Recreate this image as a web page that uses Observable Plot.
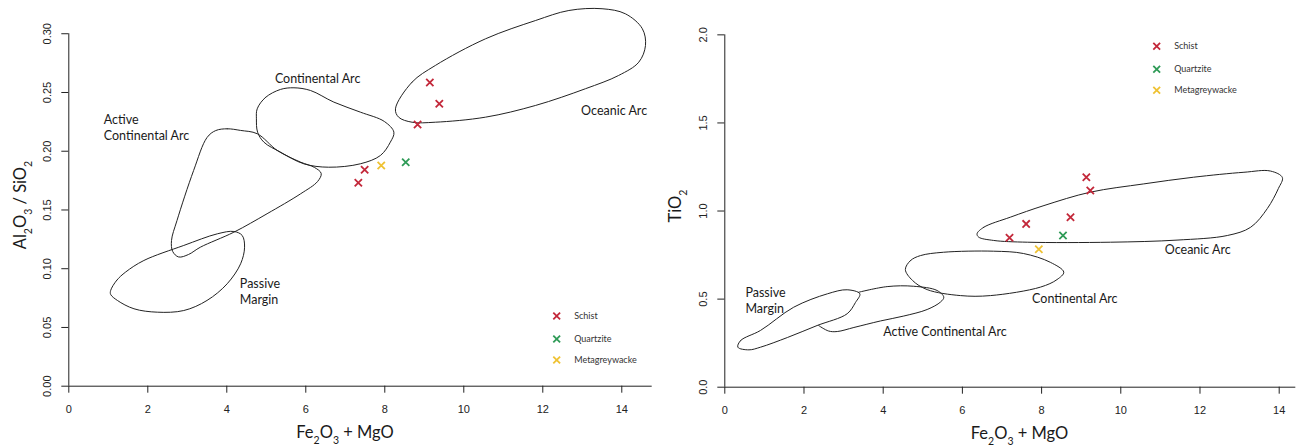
<!DOCTYPE html>
<html><head><meta charset="utf-8">
<script src="https://cdn.jsdelivr.net/npm/d3@7"></script>
<script src="https://cdn.jsdelivr.net/npm/@observablehq/plot@0.6"></script>
<style>
body{margin:0;background:#fff;}
#wrap{position:relative;width:1296px;height:447px;overflow:hidden;background:#fff;}
#left{position:absolute;left:0;top:0;}
#right{position:absolute;left:660px;top:0;}
</style></head><body><div id="wrap"><div id="left"></div><div id="right"></div></div>
<script>
// ---------- categories ----------
const rockTypes = ["Schist", "Quartzite", "Metagreywacke"];
const rockColors = ["#c3283a", "#2f9b57", "#efc233"];

// ---------- tick values ----------
const xTicks = [0, 2, 4, 6, 8, 10, 12, 14];
const leftYTicks = [0, 0.05, 0.10, 0.15, 0.20, 0.25, 0.30];
const rightYTicks = [0, 0.5, 1.0, 1.5, 2.0];

// ---------- samples: left panel (Al2O3/SiO2 vs Fe2O3+MgO) ----------
const leftType = ["Schist", "Schist", "Schist", "Quartzite", "Metagreywacke", "Schist", "Schist"];
const leftFeMg = [9.14, 9.38, 8.83, 8.53, 7.91, 7.49, 7.33];
const leftAlSi = [0.2585, 0.2404, 0.2228, 0.1907, 0.1879, 0.1842, 0.1731];

// ---------- samples: right panel (TiO2 vs Fe2O3+MgO) ----------
const rightType = ["Schist", "Schist", "Schist", "Schist", "Schist", "Quartzite", "Metagreywacke"];
const rightFeMg = [9.13, 9.23, 8.73, 7.61, 7.19, 8.54, 7.93];
const rightTiO2 = [1.192, 1.116, 0.965, 0.927, 0.848, 0.861, 0.783];

// ---------- tectonic fields, left panel ----------
const leftOceanicArc = [[8.27,0.2361],[8.69,0.2588],[9.28,0.2730],[10.55,0.2957],[11.82,0.3113],[12.66,0.3198],[13.50,0.3213],[14.09,0.3170],[14.52,0.3043],[14.60,0.2900],[14.43,0.2758],[13.92,0.2645],[13.08,0.2532],[11.82,0.2390],[10.55,0.2290],[9.28,0.2247],[8.69,0.2247],[8.35,0.2290]];
const leftContinentalArc = [[4.77,0.2361],[4.98,0.2458],[5.36,0.2526],[5.70,0.2540],[6.12,0.2517],[6.71,0.2418],[7.38,0.2333],[7.99,0.2253],[8.23,0.2162],[8.14,0.2077],[7.89,0.1964],[7.38,0.1893],[6.58,0.1864],[5.95,0.1893],[5.36,0.1992],[4.94,0.2077],[4.78,0.2162],[4.75,0.2276]];
const leftActiveContinentalArc = [[3.72,0.2176],[4.01,0.2191],[4.35,0.2177],[4.77,0.2149],[5.28,0.2006],[5.87,0.1907],[6.22,0.1862],[6.39,0.1811],[6.30,0.1743],[5.87,0.1638],[5.02,0.1468],[4.18,0.1311],[3.33,0.1183],[3.03,0.1121],[2.78,0.1100],[2.63,0.1147],[2.60,0.1240],[2.74,0.1411],[3.16,0.1836],[3.50,0.2117]];
const leftPassiveMargin = [[1.06,0.0815],[1.21,0.0900],[1.44,0.0972],[1.90,0.1070],[2.91,0.1198],[3.76,0.1297],[4.18,0.1317],[4.39,0.1283],[4.45,0.1183],[4.35,0.1042],[4.01,0.0872],[3.50,0.0730],[2.91,0.0644],[2.24,0.0630],[1.65,0.0659],[1.23,0.0730],[1.06,0.0781]];

// ---------- tectonic fields, right panel ----------
const rightOceanicArc = [[6.37,0.871],[6.54,0.908],[7.21,0.965],[8.06,1.031],[9.23,1.107],[10.58,1.154],[11.84,1.192],[13.11,1.220],[13.78,1.227],[14.08,1.190],[13.98,1.128],[13.70,1.014],[13.28,0.908],[12.69,0.861],[11.42,0.835],[9.74,0.823],[7.64,0.823],[6.79,0.833],[6.41,0.852]];
const rightContinentalArc = [[4.56,0.668],[4.69,0.719],[4.94,0.747],[5.52,0.766],[6.79,0.772],[7.54,0.759],[8.22,0.709],[8.56,0.653],[8.39,0.611],[7.97,0.568],[6.71,0.520],[5.95,0.520],[5.11,0.554],[4.74,0.606]];
const rightActiveContinentalArc = [[2.37,0.350],[2.62,0.319],[2.84,0.316],[3.26,0.339],[3.93,0.376],[4.52,0.404],[5.11,0.441],[5.45,0.484],[5.53,0.511],[5.36,0.549],[4.77,0.573],[4.10,0.571],[3.38,0.539]];
const rightPassiveMargin = [[0.33,0.227],[0.40,0.265],[0.90,0.322],[1.74,0.454],[2.59,0.530],[3.09,0.553],[3.41,0.530],[3.30,0.481],[3.09,0.417],[2.33,0.350],[1.58,0.282],[0.90,0.227],[0.61,0.212]];

// ---------- field labels ----------
const leftFieldLabels = [
  {x: 6.30, y: 0.2619, text: "Continental Arc", anchor: "middle"},
  {x: 0.886, y: 0.2270, text: "Active", anchor: "start"},
  {x: 0.886, y: 0.2128, text: "Continental Arc", anchor: "start"},
  {x: 4.33, y: 0.0866, text: "Passive", anchor: "start"},
  {x: 4.33, y: 0.0736, text: "Margin", anchor: "start"},
  {x: 12.97, y: 0.2341, text: "Oceanic Arc", anchor: "start"}
];
const rightFieldLabels = [
  {x: 0.52, y: 0.536, text: "Passive", anchor: "start"},
  {x: 0.52, y: 0.445, text: "Margin", anchor: "start"},
  {x: 4.00, y: 0.316, text: "Active Continental Arc", anchor: "start"},
  {x: 7.76, y: 0.498, text: "Continental Arc", anchor: "start"},
  {x: 11.11, y: 0.776, text: "Oceanic Arc", anchor: "start"}
];

// ---------- build tables ----------
function fieldRows(fields) {
  return fields.flatMap(([name, pts]) => pts.map(([x, y]) => ({name, x, y})));
}
function sampleRows(types, xs, ys) {
  return types.map((t, i) => ({type: t, x: xs[i], y: ys[i]}));
}

const labelFont = "Lato, 'Open Sans', sans-serif";
const tickFont = "'Liberation Sans', Arial, sans-serif";

function panel(cfg) {
  const labelMark = anchor => Plot.text(cfg.labels.filter(d => d.anchor === anchor),
    {x: "x", y: "y", text: "text", textAnchor: anchor, fontSize: 12.5, fontFamily: labelFont, fill: "#1a1a1a"});
  const chart = Plot.plot({
    width: cfg.width, height: 447,
    marginLeft: cfg.marginLeft, marginRight: cfg.marginRight,
    marginTop: 0, marginBottom: cfg.marginBottom,
    style: {fontFamily: tickFont, fontSize: "11px", color: "#222", background: "white"},
    x: {domain: [0, cfg.xMax]},
    y: {domain: [0, cfg.yTop]},
    color: {domain: rockTypes, range: rockColors},
    marks: [
      Plot.line(fieldRows(cfg.closed), {x: "x", y: "y", z: "name", curve: "catmull-rom-closed", stroke: "#222", strokeWidth: 1}),
      Plot.line(fieldRows(cfg.open), {x: "x", y: "y", z: "name", curve: "catmull-rom", stroke: "#222", strokeWidth: 1}),
      Plot.ruleY([0], {x1: 0, x2: cfg.xAxisEnd, stroke: "#222", strokeWidth: 1}),
      Plot.ruleX([0], {y1: 0, y2: cfg.yAxisEnd, stroke: "#222", strokeWidth: 1}),
      Plot.axisX({ticks: xTicks, tickSize: 7, tickPadding: 12, tickFormat: d => String(d), label: null, fontSize: 11}),
      Plot.axisY({ticks: cfg.yTicks, tickSize: 7, tickFormat: () => "", label: null}),
      Plot.text(cfg.yTicks, {x: 0, y: d => d, text: cfg.yFmt, rotate: -90, dx: -21.6, textAnchor: "middle", fontSize: 11, fill: "#222"}),
      labelMark("start"),
      labelMark("middle"),
      Plot.dot(cfg.samples, {x: "x", y: "y", symbol: "times", r: 3.4, stroke: "type", strokeWidth: 1.8})
    ]
  });
  const svg = d3.select(chart);
  // x title with subscripts
  const xt = svg.append("text").attr("x", cfg.xTitle[0]).attr("y", cfg.xTitle[1])
    .attr("text-anchor", "middle").attr("font-family", labelFont).attr("font-size", 16.5).attr("fill", "#1a1a1a");
  cfg.xTitleParts.forEach(([t, sub]) => {
    const ts = xt.append("tspan").text(t);
    if (sub) ts.attr("baseline-shift", "sub").attr("font-size", 10.5);
  });
  const yt = svg.append("text").attr("transform", `translate(${cfg.yTitle[0]},${cfg.yTitle[1]}) rotate(-90)`)
    .attr("text-anchor", "middle").attr("font-family", labelFont).attr("font-size", 16.5).attr("fill", "#1a1a1a");
  cfg.yTitleParts.forEach(([t, sub]) => {
    const ts = yt.append("tspan").text(t);
    if (sub) ts.attr("baseline-shift", "sub").attr("font-size", 10.5);
  });
  // legend
  const lg = svg.append("g").attr("transform", `translate(${cfg.legend[0]},${cfg.legend[1]})`);
  rockTypes.forEach((t, i) => {
    const g = lg.append("g").attr("transform", `translate(0,${cfg.legendOffsets[i]})`);
    g.append("path").attr("d", "M-3.4,-3.4L3.4,3.4M-3.4,3.4L3.4,-3.4").attr("stroke", rockColors[i]).attr("stroke-width", 1.8).attr("fill", "none");
    g.append("text").attr("x", 17.5).attr("dy", "0.35em").attr("text-anchor", "start")
      .attr("font-family", labelFont).attr("font-size", 9).attr("fill", "#333").text(t);
  });
  return chart;
}

const left = panel({
  width: 660, marginLeft: 68.3, marginRight: 8.3, marginBottom: 61.3,
  xMax: 14.77, xAxisEnd: 14.77, yTop: 0.3283, yAxisEnd: 0.30,
  yTicks: leftYTicks, yFmt: d => d.toFixed(2),
  closed: [["Oceanic Arc", leftOceanicArc], ["Continental Arc", leftContinentalArc], ["Active Continental Arc", leftActiveContinentalArc], ["Passive Margin", leftPassiveMargin]],
  open: [],
  labels: leftFieldLabels,
  samples: sampleRows(leftType, leftFeMg, leftAlSi),
  xTitle: [345, 438], xTitleParts: [["Fe"], ["2", true], ["O"], ["3", true], [" + MgO"]],
  yTitle: [26, 205], yTitleParts: [["Al"], ["2", true], ["O"], ["3", true], [" / SiO"], ["2", true]],
  legend: [556.7, 316], legendOffsets: [0, 23, 44]
});
const right = panel({
  width: 636, marginLeft: 64.3, marginRight: 0, marginBottom: 60.3,
  xMax: 14.437, xAxisEnd: 14.42, yTop: 2.195, yAxisEnd: 2.0,
  yTicks: rightYTicks, yFmt: d => d.toFixed(1),
  closed: [["Oceanic Arc", rightOceanicArc], ["Continental Arc", rightContinentalArc], ["Passive Margin", rightPassiveMargin]],
  open: [["Active Continental Arc", rightActiveContinentalArc]],
  labels: rightFieldLabels,
  samples: sampleRows(rightType, rightFeMg, rightTiO2),
  xTitle: [359.5, 439], xTitleParts: [["Fe"], ["2", true], ["O"], ["3", true], [" + MgO"]],
  yTitle: [21, 206], yTitleParts: [["TiO"], ["2", true]],
  legend: [496.7, 46.3], legendOffsets: [0, 23, 44]
});
document.getElementById("left").appendChild(left);
document.getElementById("right").appendChild(right);
</script></body></html>
